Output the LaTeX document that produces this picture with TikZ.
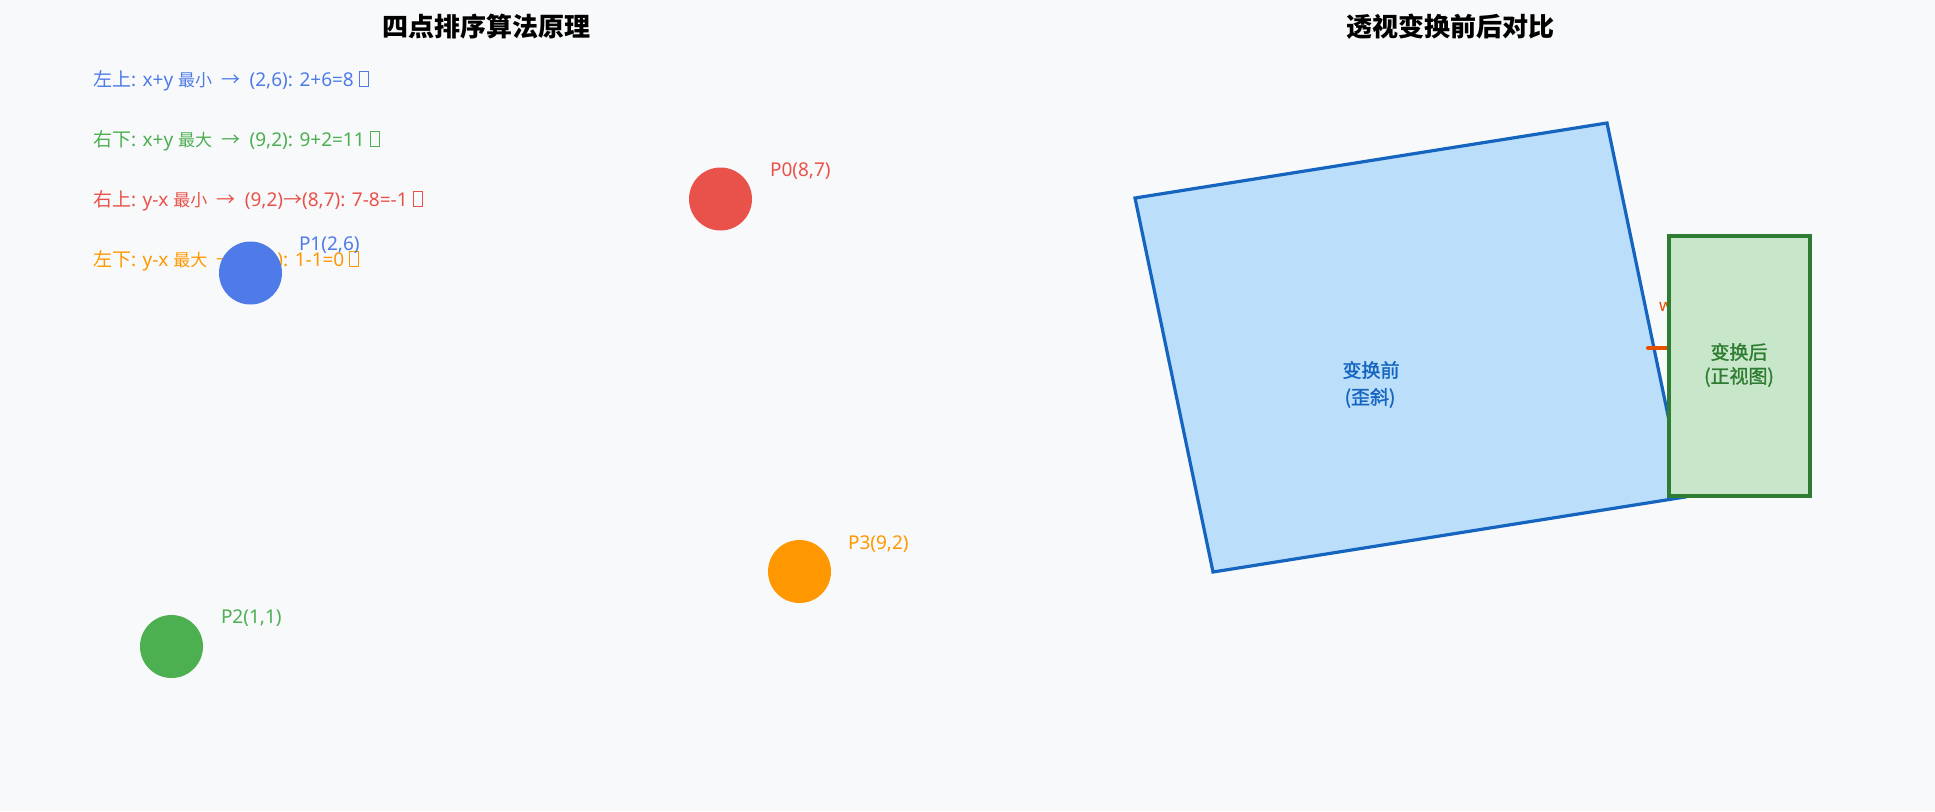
\documentclass[tikz,border=0pt]{standalone}
\usepackage{fontspec}
\setmainfont{Noto Sans}
\newfontfamily\cjk{Noto Sans CJK SC}
\newfontfamily\cjkfb[FakeBold=1.4]{Noto Sans CJK SC}
\definecolor{bgc}{HTML}{F8F9FA}
\definecolor{redc}{HTML}{E9524A}
\definecolor{bluec}{HTML}{4E7BE8}
\definecolor{greenc}{HTML}{4CAF50}
\definecolor{orangec}{HTML}{FF9800}
\definecolor{bline}{HTML}{1565C0}
\definecolor{bfill}{HTML}{BBDEFB}
\definecolor{gline}{HTML}{2E7D32}
\definecolor{gfill}{HTML}{C8E6C9}
\definecolor{deeporange}{HTML}{E65100}
\newcommand{\tofu}{\kern5pt{\fboxsep=0pt\fboxrule=0.9pt\fbox{\rule{0pt}{14pt}\rule{8pt}{0pt}}}}
\newcommand{\sm}[1]{{\cjk\fontsize{17}{18}\selectfont #1}}
\tikzset{
  title/.style={font=\cjk\bfseries\fontsize{26}{28}\selectfont, text=black, anchor=center},
  listtxt/.style={font=\fontsize{19}{20}\selectfont, anchor=base west},
  dot/.style={circle, minimum size=63pt, draw=none},
  plabel/.style={font=\fontsize{19}{20}\selectfont, anchor=base west},
  boxtxt/.style={font=\cjkfb\fontsize{19}{20}\selectfont, anchor=center},
}
\begin{document}
\begin{tikzpicture}[x=1pt,y=-1pt,inner sep=0pt,outer sep=0pt]
\fill[bgc] (0,0) rectangle (1935,811);
\useasboundingbox (0,0) rectangle (1935,811);
% titles
\node[title] (t1) at (486,27) {四点排序算法原理};
\node[title] (t2) at (1450,27) {透视变换前后对比};
% list
\node[listtxt, text=bluec] (r1) at (93,86) {{\cjk 左上}: x+y \sm{最小} {\cjk ~→~} (2,6): 2+6=8\tofu};
\node[listtxt, text=greenc] (r2) at (93,146) {{\cjk 右下}: x+y \sm{最大} {\cjk ~→~} (9,2): 9+2=11\tofu};
\node[listtxt, text=redc] (r3) at (93,206) {{\cjk 右上}: y-x \sm{最小} {\cjk ~→~} (9,2){\cjk →}(8,7): 7-8=-1\tofu};
\node[listtxt, text=orangec] (r4) at (93,266) {{\cjk 左下}: y-x \sm{最大} {\cjk ~→~} (1,1): 1-1=0\tofu};
% points
\node[dot, fill=redc] (p0) at (720.5,199) {};
\node[dot, fill=bluec] (p1) at (250.5,273) {};
\node[dot, fill=greenc] (p2) at (171.5,646.5) {};
\node[dot, fill=orangec] (p3) at (799.5,571.5) {};
\node[plabel, text=redc] (l0) at (770,176) {P0(8,7)};
\node[plabel, text=bluec] (l1) at (299,250) {P1(2,6)};
\node[plabel, text=greenc] (l2) at (221,623) {P2(1,1)};
\node[plabel, text=orangec] (l3) at (848,549) {P3(9,2)};
% before
\draw[line width=3.2pt, draw=bline, fill=bfill, line join=miter] (1135,198) -- (1607,123) -- (1685,497) -- (1213,572) -- cycle;
\node[boxtxt, text=bline] (b1) at (1371,370) {变换前};
\node[boxtxt, text=bline] (b2) at (1370,398) {(歪斜)};
% arrow (mostly hidden)
\coordinate (oa) at (1648,348);
\coordinate (ob) at (1700,348);
\draw[deeporange, line width=4pt, line cap=round] (oa) -- (ob);
\node[font=\fontsize{17}{18}\selectfont, text=deeporange, anchor=base west] (w) at (1659,311) {w};
% after
\node[draw=gline, fill=gfill, line width=3.2pt, minimum width=141pt, minimum height=260pt] (g) at (1739.5,366) {};
\node[boxtxt, text=gline] (a1) at (1739,352) {变换后};
\node[boxtxt, text=gline] (a2) at (1739,377) {(正视图)};
\end{tikzpicture}
\end{document}
